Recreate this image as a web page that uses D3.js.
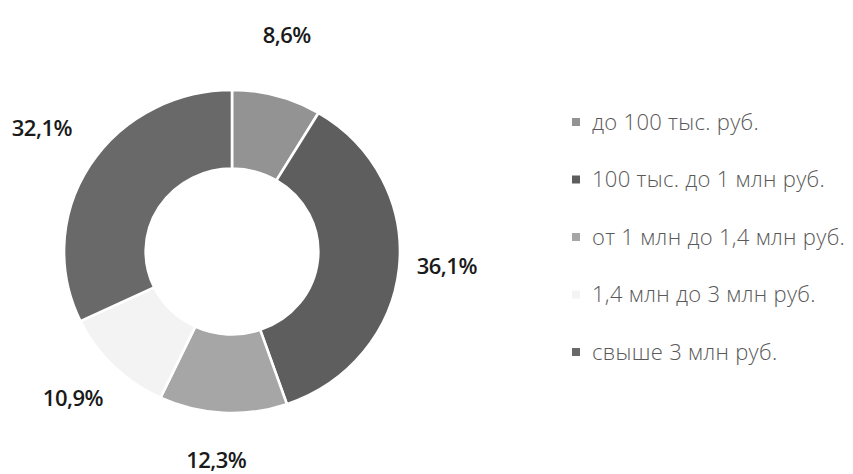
<!DOCTYPE html>
<html>
<head>
<meta charset="utf-8">
<script src="https://cdn.jsdelivr.net/npm/d3@7"></script>
<style>
  html, body { margin: 0; padding: 0; background: #fff; }
  svg { display: block; }
</style>
</head>
<body>
<svg id="chart" width="853" height="474"></svg>
<script>
const categories = [
  "до 100 тыс. руб.",
  "100 тыс. до 1 млн руб.",
  "от 1 млн до 1,4 млн руб.",
  "1,4 млн до 3 млн руб.",
  "свыше 3 млн руб."
];
const values = [8.6, 36.1, 12.3, 10.9, 32.1];
const labels = ["8,6%", "36,1%", "12,3%", "10,9%", "32,1%"];
const colors = ["#939393", "#5e5e5e", "#a6a6a6", "#f3f3f3", "#696969"];

const svg = d3.select("#chart");
const cx = 232, cy = 251.5, outerR = 161.5, innerR = 83, sx = 1.04;

const pie = d3.pie().sort(null).value(d => d);
const arcs = pie(values);
const arc = d3.arc().innerRadius(innerR).outerRadius(outerR);

const g = svg.append("g").attr("transform", `translate(${cx},${cy}) scale(${sx},1)`);
g.selectAll("path").data(arcs).join("path")
  .attr("d", arc)
  .attr("fill", (d, i) => colors[i])
  .attr("stroke", "#fff")
  .attr("stroke-width", 2.5)
  .attr("stroke-linejoin", "round");

// labels outside along slice mid-angle
const lcx = 228, lcy = 244, lrx = 220, lry = 217;
svg.append("g").selectAll("text").data(arcs).join("text")
  .attr("x", d => lcx + Math.sin((d.startAngle + d.endAngle) / 2) * lrx)
  .attr("y", d => lcy - Math.cos((d.startAngle + d.endAngle) / 2) * lry)
  .attr("dy", "0.35em")
  .attr("text-anchor", "middle")
  .attr("font-family", "'Open Sans', sans-serif")
  .attr("font-weight", 600)
  .attr("font-size", 22)
  .attr("letter-spacing", -0.5)
  .attr("fill", "#1a1a1a")
  .text((d, i) => labels[i]);

// legend
const ly = d3.scalePoint().domain(categories).range([122, 352]);
const leg = svg.append("g").selectAll("g").data(categories).join("g")
  .attr("transform", d => `translate(572,${ly(d)})`);
leg.append("rect")
  .attr("x", 0).attr("y", -4).attr("width", 8).attr("height", 8)
  .attr("fill", (d, i) => colors[i]);
leg.append("text")
  .attr("x", 20).attr("y", 0).attr("dy", "0.35em")
  .attr("font-family", "'Open Sans', sans-serif")
  .attr("font-weight", 300)
  .attr("font-size", 22)
  .attr("letter-spacing", 0.3)
  .attr("fill", "#595959")
  .text(d => d);
</script>
</body>
</html>
